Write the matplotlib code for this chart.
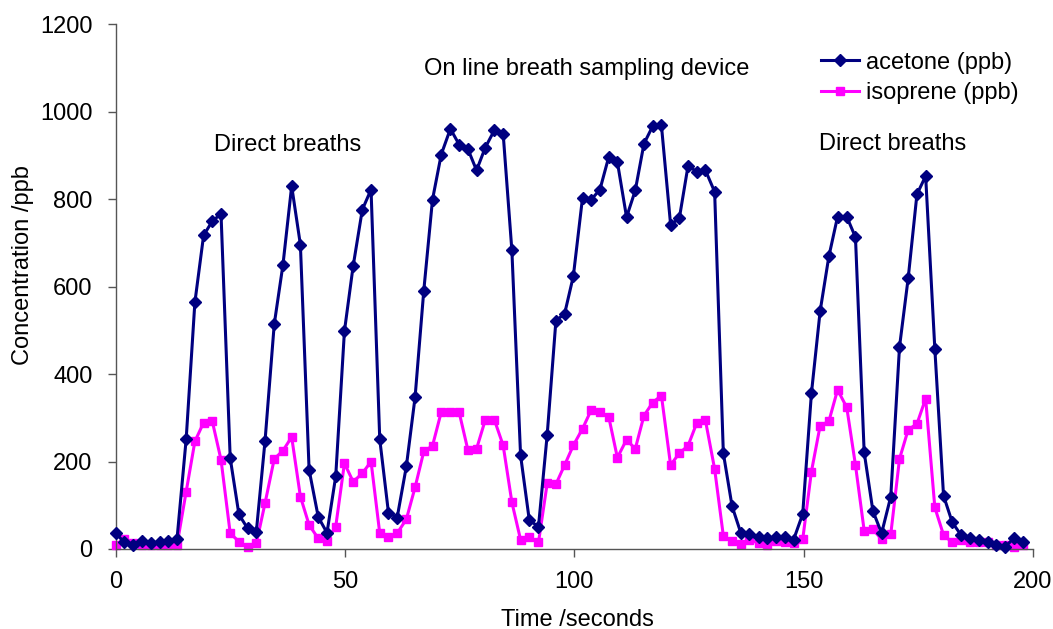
import matplotlib
matplotlib.use("Agg")
import matplotlib.pyplot as plt

plt.rcParams['font.family'] = ['Liberation Sans', 'DejaVu Sans']

time_s = [0.0, 1.9, 3.8, 5.8, 7.7, 9.6, 11.5, 13.4, 15.4, 17.3,
          19.2, 21.1, 23.0, 25.0, 26.9, 28.8, 30.7, 32.6, 34.6, 36.5,
          38.4, 40.3, 42.2, 44.2, 46.1, 48.0, 49.9, 51.8, 53.8, 55.7,
          57.6, 59.5, 61.4, 63.4, 65.3, 67.2, 69.1, 71.0, 73.0, 74.9,
          76.8, 78.7, 80.6, 82.6, 84.5, 86.4, 88.3, 90.2, 92.2, 94.1,
          96.0, 97.9, 99.8, 101.8, 103.7, 105.6, 107.5, 109.4, 111.4, 113.3,
          115.2, 117.1, 119.0, 121.0, 122.9, 124.8, 126.7, 128.6, 130.6, 132.5,
          134.4, 136.3, 138.2, 140.2, 142.1, 144.0, 145.9, 147.8, 149.8, 151.7,
          153.6, 155.5, 157.4, 159.4, 161.3, 163.2, 165.1, 167.0, 169.0, 170.9,
          172.8, 174.7, 176.6, 178.6, 180.5, 182.4, 184.3, 186.2, 188.2, 190.1,
          192.0, 193.9, 195.8, 197.8]

acetone = [37, 15, 9, 19, 13, 15, 18, 22, 251, 564,
           717, 750, 766, 208, 79, 47, 40, 248, 514, 650,
           830, 696, 181, 73, 37, 166, 498, 647, 776, 822,
           251, 83, 72, 189, 347, 591, 799, 902, 961, 925,
           915, 866, 918, 958, 950, 683, 214, 66, 51, 261,
           522, 538, 624, 803, 799, 822, 896, 885, 759, 820,
           927, 967, 969, 742, 756, 876, 863, 866, 817, 219,
           98, 37, 34, 27, 24, 28, 28, 21, 80, 356,
           544, 669, 760, 760, 713, 221, 87, 36, 120, 462,
           620, 811, 853, 458, 122, 61, 32, 24, 21, 15,
           9, 5, 24, 17]

isoprene = [9, 22, 13, 9, 8, 8, 9, 9, 131, 246,
            289, 292, 204, 36, 17, 5, 13, 105, 206, 225,
            256, 120, 55, 24, 19, 51, 196, 154, 173, 200,
            36, 27, 36, 68, 141, 223, 236, 313, 313, 313,
            227, 229, 295, 295, 237, 107, 21, 28, 15, 150,
            148, 192, 237, 275, 318, 313, 303, 209, 250, 229,
            305, 335, 351, 192, 219, 236, 288, 294, 183, 30,
            18, 11, 21, 13, 9, 19, 15, 13, 22, 177,
            282, 292, 364, 324, 192, 42, 45, 22, 34, 206,
            273, 286, 344, 95, 32, 15, 21, 17, 15, 15,
            8, 8, 5, 9]

x_ticks = [0, 50, 100, 150, 200]
y_ticks = [0, 200, 400, 600, 800, 1000, 1200]

FS = 17

fig = plt.figure(figsize=(10.53, 6.29), dpi=100)
ax = fig.add_axes([0.1097, 0.1272, 0.8713, 0.8342])

ax.plot(time_s, acetone, color='#000080', marker='D', markersize=5.8,
        linewidth=2.2, label='acetone (ppb)', clip_on=False, zorder=3)
ax.plot(time_s, isoprene, color='#FF00FF', marker='s', markersize=6,
        linewidth=2.2, label='isoprene (ppb)', clip_on=False, zorder=2)

ax.set_xlim(0, 200)
ax.set_ylim(0, 1200)
ax.set_xticks(x_ticks)
ax.set_yticks(y_ticks)
ax.spines['top'].set_visible(False)
ax.spines['right'].set_visible(False)
for s in ['left', 'bottom']:
    ax.spines[s].set_color('#555555')
    ax.spines[s].set_linewidth(1.0)
ax.tick_params(axis='both', direction='out', length=5.5, width=1.0,
               colors='#555555', labelcolor='black', labelsize=FS)
ax.tick_params(axis='x', pad=10)
ax.tick_params(axis='y', pad=11)

ax.set_xlabel('Time /seconds', fontsize=FS)
ax.set_ylabel('Concentration /ppb', fontsize=FS)
ax.xaxis.set_label_coords(0.504, -0.1353)
ax.xaxis.label.set_va('center')
ax.yaxis.set_label_coords(-0.1008, 0.541)
ax.yaxis.label.set_rotation_mode('default')
ax.yaxis.label.set_va('center')
ax.yaxis.label.set_ha('center')

ax.text(37.5, 925, 'Direct breaths', fontsize=FS, ha='center', va='center')
ax.text(102.8, 1097, 'On line breath sampling device', fontsize=FS,
        ha='center', va='center')
ax.text(169.5, 927, 'Direct breaths', fontsize=FS, ha='center', va='center')

leg = ax.legend(loc='upper left', bbox_to_anchor=(0.7797, 0.918),
                bbox_transform=fig.transFigure, frameon=False,
                fontsize=FS, handlelength=1.6, handletextpad=0.3,
                labelspacing=0.35, borderpad=0, borderaxespad=0)

fig.savefig('out.png', dpi=100)
